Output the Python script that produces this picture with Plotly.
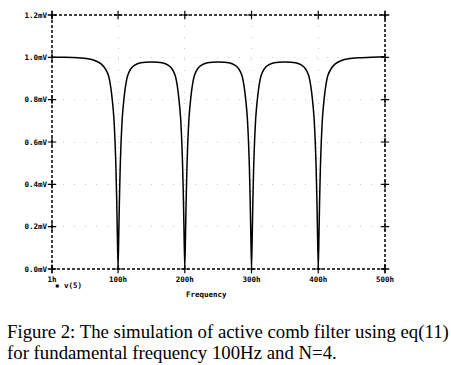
import plotly.graph_objects as go

# Frequency (Hz) and output voltage (mV)
freq = [1, 20, 40, 55, 65, 75, 81, 85.5, 88.5, 91.3, 93.8, 95.5, 96.8, 98, 99, 100,
        101, 102, 103.2, 104.5, 106.2, 108.7, 111.5, 114.5, 119, 125, 134, 150,
        166, 175, 181, 185.5, 188.5, 191.3, 193.8, 195.5, 196.8, 198, 199, 200,
        201, 202, 203.2, 204.5, 206.2, 208.7, 211.5, 214.5, 219, 225, 234, 250,
        266, 275, 281, 285.5, 288.5, 291.3, 293.8, 295.5, 296.8, 298, 299, 300,
        301, 302, 303.2, 304.5, 306.2, 308.7, 311.5, 314.5, 319, 325, 334, 350,
        366, 375, 381, 385.5, 388.5, 391.3, 393.8, 395.5, 396.8, 398, 399, 400,
        401, 402, 403.2, 404.5, 406.2, 408.7, 411.5, 414.5, 419, 425, 435, 445, 460, 480, 500]
volt = [1.000, 1.000, 0.998, 0.993, 0.985, 0.968, 0.945, 0.915, 0.870, 0.800, 0.710, 0.600, 0.480, 0.320, 0.150, 0.000,
        0.150, 0.320, 0.480, 0.600, 0.710, 0.800, 0.870, 0.915, 0.945, 0.963, 0.974, 0.978,
        0.974, 0.963, 0.945, 0.915, 0.870, 0.800, 0.710, 0.600, 0.480, 0.320, 0.150, 0.000,
        0.150, 0.320, 0.480, 0.600, 0.710, 0.800, 0.870, 0.915, 0.945, 0.963, 0.974, 0.978,
        0.974, 0.963, 0.945, 0.915, 0.870, 0.800, 0.710, 0.600, 0.480, 0.320, 0.150, 0.000,
        0.150, 0.320, 0.480, 0.600, 0.710, 0.800, 0.870, 0.915, 0.945, 0.963, 0.974, 0.978,
        0.974, 0.963, 0.945, 0.915, 0.870, 0.800, 0.710, 0.600, 0.480, 0.320, 0.150, 0.000,
        0.150, 0.320, 0.480, 0.600, 0.710, 0.800, 0.870, 0.915, 0.945, 0.968, 0.985, 0.993, 0.998, 1.000, 1.003]

x_ticks = [1, 100, 200, 300, 400, 500]
x_labels = ["1h", "100h", "200h", "300h", "400h", "500h"]
y_ticks = [0.0, 0.2, 0.4, 0.6, 0.8, 1.0, 1.2]
y_labels = ["0.0mV", "0.2mV", "0.4mV", "0.6mV", "0.8mV", "1.0mV", "1.2mV"]

caption1 = "Figure 2: The simulation of active comb filter using eq(11)"
caption2 = "for fundamental frequency 100Hz and N=4."

fig = go.Figure()
fig.add_trace(go.Scatter(x=freq, y=volt, mode="lines", line_shape="spline",
                         line=dict(color="black", width=1.5, smoothing=0.5), showlegend=False,
                         hoverinfo="skip"))

# "+" tick marks on the dotted frame
px_ = x_ticks + x_ticks + [x_ticks[0]] * len(y_ticks) + [x_ticks[-1]] * len(y_ticks)
py_ = [y_ticks[0]] * len(x_ticks) + [y_ticks[-1]] * len(x_ticks) + y_ticks + y_ticks
fig.add_trace(go.Scatter(x=px_, y=py_, mode="markers", cliponaxis=False,
                         marker=dict(symbol="cross-thin", size=6,
                                     line=dict(color="black", width=1.2)),
                         showlegend=False, hoverinfo="skip"))

tickfont = dict(family="DejaVu Sans Mono", size=7.5, color="black", weight="bold")
fig.update_xaxes(range=[1, 500], tickvals=x_ticks, ticktext=x_labels,
                 showgrid=True, gridcolor="#c8c8c8", griddash="1px,10px", gridwidth=1,
                 zeroline=False, showline=False, ticks="", tickfont=tickfont,
                 ticklabelstandoff=4)
fig.update_yaxes(range=[0, 1.2], tickvals=y_ticks, ticktext=y_labels,
                 showgrid=True, gridcolor="#c8c8c8", griddash="1px,10px", gridwidth=1,
                 zeroline=False, showline=False, ticks="", tickfont=tickfont,
                 ticklabelstandoff=4)

fig.add_shape(type="rect", xref="paper", yref="paper", x0=0, x1=1, y0=0, y1=1,
              line=dict(color="black", width=1.5, dash="3px,2px"), layer="above")

ann_font = dict(family="DejaVu Sans Mono", size=7.5, color="black", weight="bold")
fig.add_annotation(xref="paper", yref="paper", x=0.003, y=-0.063, text="▪ v(5)",
                   showarrow=False, xanchor="left", yanchor="middle", font=ann_font)
fig.add_annotation(xref="paper", yref="paper", x=(206 - 52) / 333, y=-0.1, text="Frequency",
                   showarrow=False, xanchor="center", yanchor="middle", font=ann_font)

cap_font = dict(family="Liberation Serif", size=18.8, color="black")
fig.add_annotation(xref="paper", yref="paper", x=-47 / 333, y=-0.248, text=caption1,
                   showarrow=False, xanchor="left", yanchor="middle", font=cap_font)
fig.add_annotation(xref="paper", yref="paper", x=-47 / 333, y=-0.327, text=caption2,
                   showarrow=False, xanchor="left", yanchor="middle", font=cap_font)

fig.update_layout(width=451, height=365, margin=dict(l=52, r=66, t=15, b=96),
                  paper_bgcolor="white", plot_bgcolor="white", showlegend=False)

fig.write_html("out.html", config={"displayModeBar": False},
               post_script="document.body.style.margin='0';")
